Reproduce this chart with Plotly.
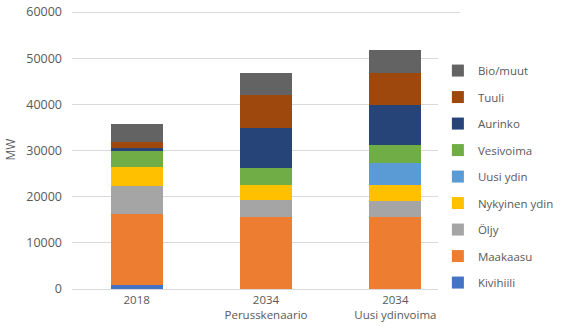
import plotly.graph_objects as go

categories = ["2018", "2034<br>Perusskenaario", "2034<br>Uusi ydinvoima"]
series_names = ["Kivihiili", "Maakaasu", "Öljy", "Nykyinen ydin", "Uusi ydin",
                "Vesivoima", "Aurinko", "Tuuli", "Bio/muut"]
kivihiili = [800, 0, 0]
maakaasu = [15450, 15600, 15600]
oljy = [6000, 3600, 3500]
nykyinen_ydin = [4100, 3400, 3400]
uusi_ydin = [0, 0, 4900]
vesivoima = [3600, 3600, 3700]
aurinko = [500, 8700, 8750]
tuuli = [1300, 7200, 6950]
bio_muut = [4050, 4700, 5050]
y_ticks = [0, 10000, 20000, 30000, 40000, 50000, 60000]
colors = ["#4472C4", "#ED7D31", "#A5A5A5", "#FFC000", "#5B9BD5",
          "#70AD47", "#264478", "#9E480E", "#636363"]
values = [kivihiili, maakaasu, oljy, nykyinen_ydin, uusi_ydin,
          vesivoima, aurinko, tuuli, bio_muut]

fig = go.Figure()
n = len(series_names)
for i, (name, vals, col) in enumerate(zip(series_names, values, colors)):
    fig.add_trace(go.Bar(x=categories, y=vals, name=name, marker_color=col,
                         marker_line_width=0, legendgroup=str(i),
                         legendrank=n - i))

fig.update_layout(
    barmode="stack",
    bargap=0.6,
    width=572, height=335,
    margin=dict(l=72, r=112, t=10, b=46, autoexpand=False),
    paper_bgcolor="white", plot_bgcolor="white",
    font=dict(family="Open Sans", size=11, color="#595959"),
    legend=dict(traceorder="grouped", x=0.943, xanchor="left", y=0.403, yanchor="middle",
                itemwidth=30, tracegroupgap=7.5, font=dict(size=11.5, color="#595959")),
    xaxis=dict(showline=True, linecolor="#D9D9D9", ticks="", tickfont=dict(size=11.5),
               automargin=False),
    yaxis=dict(range=[0, 60435], tickvals=y_ticks, tickformat="d", gridcolor="#D9D9D9",
               zeroline=False, automargin=False, ticklabeloverflow="allow",
               tickfont=dict(size=12.5), ticklabelstandoff=9,
               title=dict(text="MW", font=dict(size=12), standoff=8)),
)
fig.write_html("out.html", config={"displayModeBar": False},
               post_script="document.body.style.margin='0';")
